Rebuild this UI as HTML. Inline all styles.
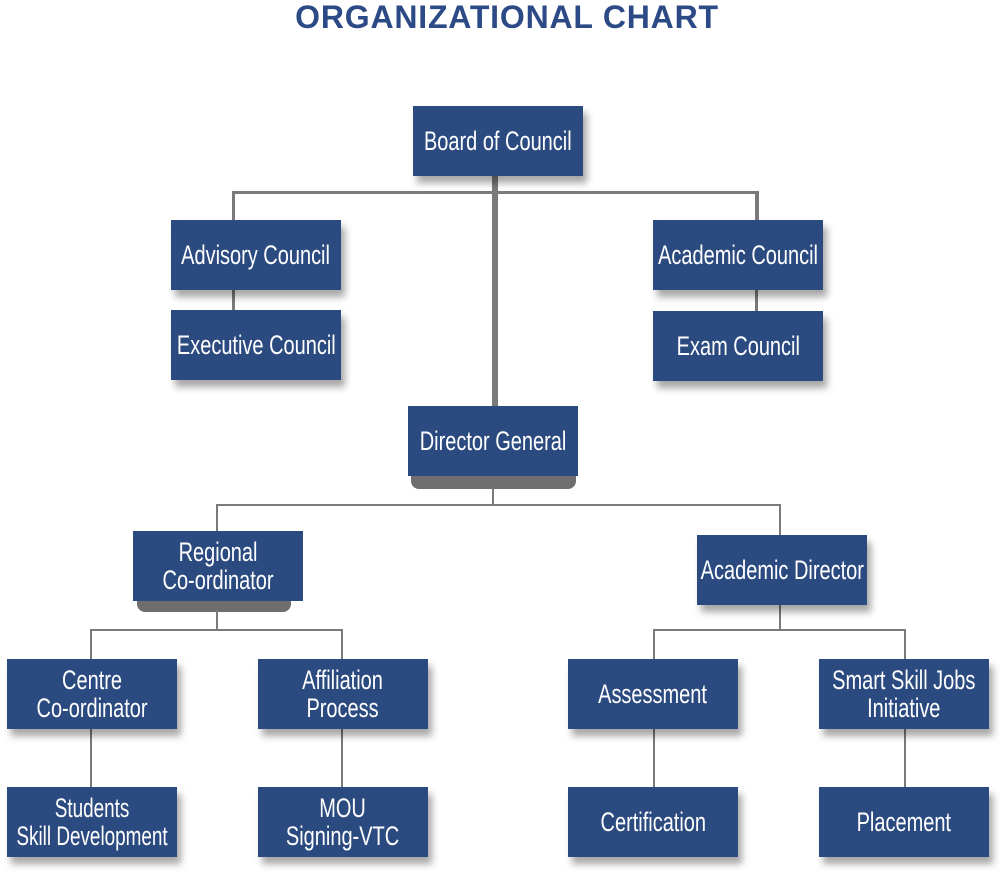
<!DOCTYPE html>
<html><head><meta charset="utf-8"><style>
body{margin:0;width:1000px;height:876px;background:#fff;position:relative;overflow:hidden;font-family:"Liberation Sans",sans-serif}
.t{position:absolute;left:0;width:1014px;top:-1px;text-align:center;font:bold 32px "Liberation Sans",sans-serif;color:#2c4a86;letter-spacing:0.8px}
.b{position:absolute;width:170px;height:70px;background:#2b4a80;color:#fff;display:flex;align-items:center;justify-content:center;text-align:center;font-size:27px;line-height:28px;box-shadow:4px 7px 7px rgba(0,0,0,0.35)}
.b span{display:inline-block;white-space:nowrap;transform:scaleX(0.74)}
.l{position:absolute;background:#7a7a7a}
.sh{position:absolute;background:#6e6e6e;border-radius:0 0 8px 8px}
</style></head><body>
<div class="t">ORGANIZATIONAL CHART</div>
<div class="l" style="left:233px;top:191px;width:525px;height:3px"></div>
<div class="l" style="left:492px;top:176px;width:6px;height:232px"></div>
<div class="l" style="left:232px;top:191px;width:3px;height:29px"></div>
<div class="l" style="left:755px;top:191px;width:4px;height:29px"></div>
<div class="l" style="left:232px;top:289px;width:3px;height:21px"></div>
<div class="l" style="left:755px;top:289px;width:3px;height:22px"></div>
<div class="sh" style="left:411px;top:470px;width:165px;height:19px"></div>
<div class="l" style="left:492px;top:488px;width:2px;height:17px"></div>
<div class="l" style="left:217px;top:504px;width:564px;height:2px"></div>
<div class="l" style="left:216px;top:504px;width:2px;height:27px"></div>
<div class="l" style="left:779px;top:504px;width:2px;height:31px"></div>
<div class="sh" style="left:137px;top:596px;width:154px;height:16px"></div>
<div class="l" style="left:216px;top:610px;width:2px;height:20px"></div>
<div class="l" style="left:91px;top:629px;width:252px;height:2px"></div>
<div class="l" style="left:90px;top:629px;width:2px;height:30px"></div>
<div class="l" style="left:341px;top:629px;width:2px;height:30px"></div>
<div class="l" style="left:779px;top:604px;width:2px;height:26px"></div>
<div class="l" style="left:654px;top:629px;width:252px;height:2px"></div>
<div class="l" style="left:653px;top:629px;width:2px;height:30px"></div>
<div class="l" style="left:904px;top:629px;width:2px;height:30px"></div>
<div class="l" style="left:90px;top:729px;width:2px;height:58px"></div>
<div class="l" style="left:341px;top:729px;width:2px;height:58px"></div>
<div class="l" style="left:653px;top:729px;width:2px;height:58px"></div>
<div class="l" style="left:904px;top:729px;width:2px;height:58px"></div>
<div class="b" style="left:413px;top:106px"><span>Board of Council</span></div>
<div class="b" style="left:171px;top:220px"><span>Advisory Council</span></div>
<div class="b" style="left:171px;top:310px"><span>Executive Council</span></div>
<div class="b" style="left:653px;top:220px"><span>Academic Council</span></div>
<div class="b" style="left:653px;top:311px"><span>Exam Council</span></div>
<div class="b" style="left:408px;top:406px;box-shadow:none"><span>Director General</span></div>
<div class="b" style="left:133px;top:531px;box-shadow:none"><span>Regional<br>Co-ordinator</span></div>
<div class="b" style="left:697px;top:535px"><span>Academic Director</span></div>
<div class="b" style="left:7px;top:659px"><span>Centre<br>Co-ordinator</span></div>
<div class="b" style="left:258px;top:659px"><span>Affiliation<br>Process</span></div>
<div class="b" style="left:568px;top:659px"><span>Assessment</span></div>
<div class="b" style="left:819px;top:659px"><span>Smart Skill Jobs<br>Initiative</span></div>
<div class="b" style="left:7px;top:787px"><span style="transform:scaleX(0.7)">Students<br>Skill Development</span></div>
<div class="b" style="left:258px;top:787px"><span>MOU<br>Signing-VTC</span></div>
<div class="b" style="left:568px;top:787px"><span>Certification</span></div>
<div class="b" style="left:819px;top:787px"><span>Placement</span></div>
</body></html>
